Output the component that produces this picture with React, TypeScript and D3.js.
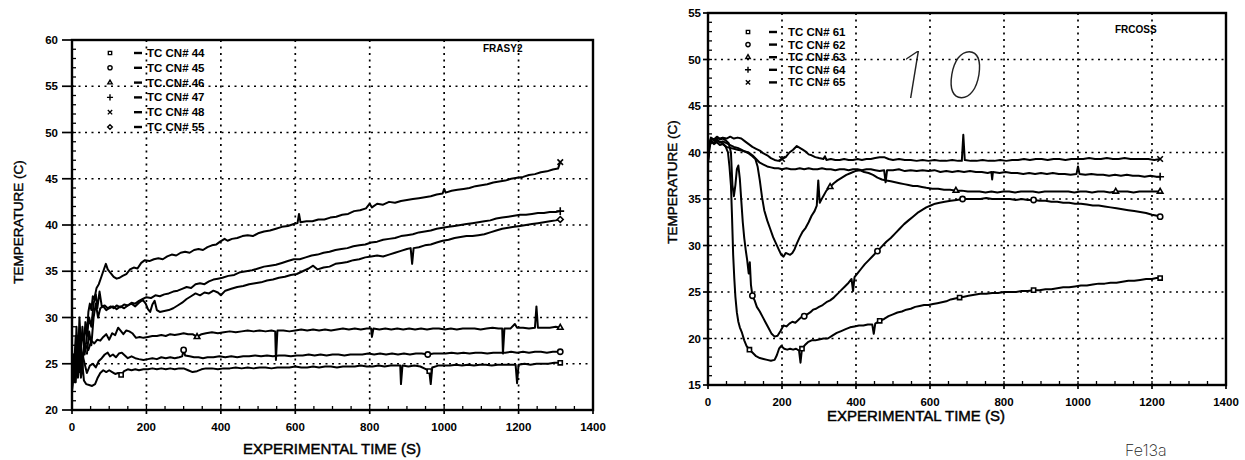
import * as d3 from "d3";

type Pt = [number, number];

// ---- left panel (FRASY2) ----
const leftLabels = ["TC CN# 44", "TC CN# 45", "TC CN# 46", "TC CN# 47", "TC CN# 48", "TC CN# 55"];
const leftYTicks = [20, 25, 30, 35, 40, 45, 50, 55, 60];
const xTicks = [0, 200, 400, 600, 800, 1000, 1200, 1400];

const l44: Pt[] = [[0,22.2],[4,25],[8,23],[12,27.5],[16,23.5],[20,26],[24,23.5],[28,25],[32,23.2],[38,22.8],[46,22.7],[54,22.6],[62,22.8],[68,23.4],[76,24],[84,24.3],[92,24.1],[100,24.3],[108,24.1],[116,23.9],[124,24],[132,23.8],[140,24.2],[150,24.4],[160,24.3],[170,24.4],[180,24.3],[192,24.4],[204,24.4],[216,24.5],[228,24.4],[240,24.5],[252,24.4],[264,24.5],[276,24.4],[288,24.5],[300,24.5],[312,24.3],[324,24.1],[336,24.2],[348,24.4],[360,24.5],[376,24.5],[392,24.4],[408,24.5],[424,24.5],[440,24.6],[456,24.5],[472,24.6],[488,24.5],[504,24.6],[520,24.6],[536,24.5],[552,24.6],[568,24.6],[584,24.6],[600,24.7],[616,24.6],[632,24.6],[648,24.7],[664,24.6],[680,24.7],[696,24.7],[712,24.6],[728,24.7],[744,24.7],[760,24.7],[776,24.8],[792,24.7],[808,24.7],[824,24.8],[840,24.7],[856,24.8],[872,24.8],[882,24.8],[884,22.8],[888,24.8],[904,24.7],[920,24.8],[936,24.7],[952,24.4],[960,24.2],[964,22.8],[968,24.6],[984,24.8],[1000,24.8],[1016,24.8],[1032,24.9],[1048,24.8],[1064,24.9],[1080,24.8],[1096,24.9],[1112,24.9],[1128,24.8],[1144,24.9],[1160,24.9],[1176,24.9],[1192,24.9],[1196,22.9],[1200,24.9],[1216,25],[1232,24.9],[1248,25],[1264,25],[1280,25],[1296,25.1],[1312,25.1]];

const l45: Pt[] = [[0,22],[6,26],[10,23],[16,28],[22,24.5],[28,26],[34,25],[40,24],[48,24.8],[56,25],[64,24.6],[72,25.3],[80,25.6],[88,26],[96,26.2],[102,25.8],[110,26],[118,25.7],[126,26.1],[134,26.2],[142,25.9],[150,25.6],[160,25.8],[170,25.6],[180,25.5],[192,25.4],[204,25.5],[216,25.6],[228,25.5],[240,25.7],[252,25.6],[264,25.7],[276,25.6],[288,25.7],[296,25.8],[300,26.5],[304,25.9],[316,25.8],[328,25.7],[340,25.7],[352,25.6],[364,25.7],[380,25.7],[396,25.8],[412,25.7],[428,25.8],[444,25.7],[460,25.8],[476,25.8],[492,25.9],[508,25.8],[524,25.9],[540,25.8],[556,25.9],[572,25.9],[588,25.8],[604,25.9],[620,25.9],[636,26],[652,25.9],[668,26],[684,25.9],[700,26],[716,26],[732,25.9],[748,26],[764,26],[780,26],[796,26.1],[812,26],[828,26.1],[844,26],[860,26.1],[876,26],[892,26.1],[908,26],[924,26.1],[940,26.1],[956,26],[972,26.1],[988,26.1],[1004,26.1],[1020,26.2],[1036,26.1],[1052,26.2],[1068,26.1],[1084,26.2],[1100,26.2],[1116,26.1],[1132,26.2],[1148,26.2],[1164,26.2],[1180,26.3],[1196,26.2],[1212,26.3],[1228,26.2],[1244,26.3],[1260,26.3],[1276,26.2],[1292,26.3],[1312,26.3]];

const l46: Pt[] = [[0,22.5],[6,25],[10,28],[14,24],[18,27.5],[24,25],[30,26],[36,27],[44,26.5],[52,27.5],[60,27.2],[68,27.6],[76,27.5],[84,27.9],[92,28.2],[100,27.6],[108,28.3],[116,28.1],[124,28.9],[130,28.6],[138,28.2],[146,28.6],[154,28.5],[162,28.3],[172,27.8],[182,27.9],[192,27.8],[204,27.9],[216,28],[228,28],[240,28.1],[252,28],[264,28.2],[276,28.1],[288,28.2],[300,28.3],[312,28.2],[324,28.2],[336,27.9],[348,28.2],[360,28.3],[376,28.4],[392,28.3],[408,28.4],[424,28.5],[440,28.4],[456,28.5],[472,28.6],[488,28.5],[504,28.6],[520,28.5],[536,28.6],[546,28.5],[548,25.4],[552,28.6],[568,28.6],[584,28.5],[600,28.6],[616,28.7],[632,28.6],[648,28.7],[664,28.6],[680,28.7],[696,28.6],[712,28.7],[728,28.8],[744,28.7],[760,28.8],[776,28.7],[792,28.8],[804,28.8],[806,27.9],[810,28.8],[826,28.7],[842,28.8],[858,28.7],[874,28.8],[890,28.7],[906,28.8],[922,28.7],[938,28.8],[954,28.7],[970,28.8],[986,28.8],[1002,28.7],[1018,28.8],[1034,28.7],[1050,28.8],[1066,28.8],[1082,28.8],[1098,28.7],[1114,28.8],[1130,28.9],[1146,28.8],[1156,28.8],[1158,26.1],[1162,28.8],[1178,28.8],[1190,29.3],[1196,28.9],[1212,28.9],[1228,28.8],[1244,28.9],[1248,31.2],[1252,28.9],[1268,28.9],[1284,28.9],[1300,29],[1312,28.9]];

const l47: Pt[] = [[20,24],[28,29],[34,26],[40,28],[46,30],[52,29],[58,31.5],[64,32.5],[68,31],[74,32.8],[80,31.2],[88,31.3],[96,31],[104,31.2],[112,31],[120,31.3],[130,31.1],[140,31.4],[150,31.3],[160,31.6],[170,31.5],[180,31.8],[190,32],[200,32.2],[212,32.1],[224,32.4],[236,32.3],[248,32.5],[260,32.6],[272,32.8],[284,32.9],[296,33.1],[308,33.3],[320,33.2],[332,33.6],[344,33.7],[356,33.6],[368,33.9],[380,34.1],[392,34.2],[404,34.3],[420,34.5],[436,34.6],[452,34.9],[468,35],[484,35.1],[500,35.3],[516,35.5],[532,35.6],[548,35.7],[564,35.9],[580,36.1],[596,36.3],[612,36.3],[628,36.5],[644,36.7],[660,36.8],[676,37],[692,37.1],[708,37.3],[724,37.4],[740,37.5],[756,37.7],[772,37.8],[788,37.9],[804,38.1],[820,38.2],[836,38.4],[852,38.5],[868,38.6],[884,38.8],[900,38.9],[916,39],[932,39.2],[948,39.3],[964,39.4],[980,39.6],[996,39.7],[1012,39.8],[1028,39.9],[1044,40],[1060,40.1],[1076,40.2],[1092,40.3],[1108,40.4],[1124,40.5],[1140,40.7],[1156,40.8],[1172,40.9],[1188,41],[1204,41.1],[1220,41.1],[1236,41.2],[1252,41.3],[1268,41.3],[1284,41.4],[1300,41.4],[1312,41.5]];

const l48: Pt[] = [[0,22],[4,26],[8,23],[12,29],[16,25],[20,30],[24,27],[28,24.5],[32,27],[36,29.5],[40,28],[44,30.6],[48,31.5],[52,30.8],[56,32.3],[60,32],[66,33.2],[72,33.6],[78,34.3],[84,35],[91,35.8],[96,35.2],[104,34.8],[112,34.4],[120,34.2],[128,34.3],[136,34.5],[146,34.7],[156,35.2],[166,35.4],[176,35.3],[186,35.9],[196,36.2],[208,36.1],[220,36.3],[232,36.4],[244,36.3],[256,36.6],[268,36.8],[280,36.7],[292,37],[304,37.1],[316,37],[328,37.3],[340,37.4],[352,37.3],[364,37.6],[376,37.8],[388,37.9],[398,38.2],[410,38.5],[418,38.3],[430,38.5],[444,38.6],[458,38.8],[472,38.9],[486,38.8],[500,39.1],[516,39.3],[532,39.4],[548,39.6],[564,39.8],[580,39.9],[596,40.1],[606,40.2],[610,41.2],[614,40.3],[630,40.4],[646,40.4],[662,40.6],[678,40.6],[694,40.8],[710,40.9],[726,41.1],[742,41.2],[758,41.5],[774,41.6],[790,41.8],[800,42.3],[806,41.9],[820,42.3],[836,42.2],[852,42.5],[868,42.4],[884,42.6],[900,42.7],[916,42.8],[932,42.9],[948,43],[964,43.1],[980,43.3],[996,43.4],[1000,43.9],[1004,43.5],[1020,43.7],[1036,43.8],[1052,43.9],[1068,44],[1084,44.2],[1100,44.3],[1116,44.4],[1132,44.6],[1148,44.7],[1164,44.8],[1180,45],[1196,45.1],[1212,45.2],[1228,45.4],[1244,45.5],[1260,45.7],[1276,45.8],[1292,46],[1306,46.1],[1312,46.8]];

const l55: Pt[] = [[40,26],[46,28.5],[52,27],[58,30],[64,31.5],[70,30],[76,31],[84,31.2],[92,30.8],[100,31],[110,31.2],[120,30.9],[130,31.2],[140,31],[150,31.3],[160,31.5],[170,31.2],[180,31.6],[190,31.9],[198,31.5],[204,30.9],[210,30.6],[216,31.4],[222,31.8],[228,30.8],[236,30.6],[248,30.7],[260,30.8],[272,31],[284,31.3],[296,31.6],[308,32],[320,32.3],[332,32.6],[344,32.4],[356,32.7],[368,32.6],[380,32.9],[392,32.7],[400,32.4],[412,32.9],[428,33.1],[444,33.3],[460,33.4],[476,33.6],[492,33.7],[508,33.8],[524,34],[540,34.1],[556,34.3],[572,34.4],[588,34.6],[604,34.7],[620,35],[636,35.3],[648,35.6],[660,35.2],[676,35.4],[692,35.5],[708,35.8],[724,35.9],[740,36],[756,36.2],[772,36.3],[788,36.5],[804,36.6],[820,36.7],[836,36.6],[852,36.8],[868,37],[884,37.2],[900,37.4],[910,37.5],[914,35.8],[918,37.5],[932,37.6],[948,37.8],[964,37.9],[980,38.1],[996,38.3],[1012,38.4],[1028,38.6],[1044,38.7],[1060,38.8],[1076,38.8],[1092,38.9],[1108,39],[1124,39.2],[1140,39.4],[1156,39.6],[1172,39.7],[1188,39.8],[1204,39.9],[1220,40],[1236,40.1],[1252,40.2],[1268,40.3],[1284,40.4],[1300,40.5],[1312,40.6]];

const leftSeries = [l44, l45, l46, l47, l48, l55];
const leftMarkTimes = [[132, 960, 1312], [300, 960, 1312], [336, 1312], [1312], [1312], [1312]];

// ---- right panel (FRCOSS) ----
const rightLabels = ["TC CN# 61", "TC CN# 62", "TC CN# 63", "TC CN# 64", "TC CN# 65"];
const rightYTicks = [15, 20, 25, 30, 35, 40, 45, 50, 55];

const r61: Pt[] = [[0,39],[4,40.5],[8,41.2],[16,41],[24,41.3],[32,41.1],[40,41],[48,40.6],[54,40],[58,38.5],[62,36.5],[65,33],[68,29],[71,26.5],[74,24.5],[78,22.8],[82,21.8],[86,21.2],[92,20.6],[98,19.8],[104,19.2],[112,18.8],[120,18.5],[130,18.1],[140,17.9],[150,17.8],[160,17.7],[170,17.6],[180,17.7],[186,18.2],[192,18.9],[198,19.2],[206,18.9],[214,18.8],[222,18.9],[230,18.8],[238,18.9],[246,18.7],[250,17.4],[254,18.9],[262,19.3],[270,19.6],[280,19.8],[290,19.8],[300,19.9],[312,20],[324,20],[336,20.3],[348,20.6],[360,20.8],[372,21],[384,21.2],[396,21.3],[408,21.4],[420,21.4],[432,21.5],[444,21.5],[448,20.5],[452,21.6],[464,21.9],[476,22.1],[488,22.4],[500,22.6],[512,22.8],[524,22.9],[536,23.1],[548,23.2],[560,23.4],[572,23.5],[584,23.6],[596,23.6],[608,23.7],[620,23.8],[632,23.9],[644,24],[656,24.2],[668,24.3],[680,24.4],[692,24.5],[704,24.6],[720,24.7],[736,24.8],[752,24.8],[768,24.9],[784,24.9],[800,25],[816,25],[832,25],[848,25.1],[864,25.1],[880,25.2],[896,25.2],[912,25.3],[928,25.3],[944,25.4],[960,25.5],[976,25.5],[992,25.6],[1008,25.7],[1024,25.7],[1040,25.8],[1056,25.9],[1072,25.9],[1088,26],[1104,26],[1120,26.1],[1136,26.2],[1152,26.2],[1168,26.3],[1184,26.4],[1200,26.4],[1212,26.5],[1222,26.5]];

const r62: Pt[] = [[0,39.5],[4,41],[8,41.5],[16,41.3],[24,41.6],[32,41.4],[40,41.5],[48,41.3],[56,41],[62,40],[66,36.5],[70,35.3],[74,36.5],[78,38.2],[82,38.6],[86,37.2],[90,34.8],[94,32.5],[98,30.8],[102,29.5],[106,28.4],[110,27],[113,28.2],[116,25.8],[120,24.6],[126,24.1],[132,23.4],[140,22.9],[148,22.3],[156,21.7],[164,21.1],[172,20.5],[180,20.2],[188,20.3],[196,20.8],[204,21.4],[212,21.3],[220,21.6],[228,21.8],[236,21.7],[244,22],[252,22.3],[260,22.4],[268,22.6],[276,22.8],[284,23.1],[292,23.2],[300,23.4],[310,23.6],[320,23.9],[330,24.1],[340,24.4],[350,24.8],[360,25.2],[370,25.6],[380,26],[388,26.4],[392,25.1],[396,26.6],[404,27],[414,27.5],[424,28],[434,28.4],[446,28.9],[458,29.4],[470,29.9],[482,30.4],[494,30.8],[506,31.3],[518,31.8],[530,32.3],[542,32.7],[554,33.1],[566,33.5],[578,33.8],[590,34.1],[602,34.3],[614,34.5],[626,34.6],[640,34.7],[656,34.8],[672,34.9],[688,35],[704,35],[720,35],[736,35],[752,35.1],[768,35],[784,35],[800,35],[816,35],[832,34.9],[848,35],[864,34.9],[880,34.9],[896,34.8],[912,34.8],[928,34.7],[944,34.7],[960,34.6],[976,34.6],[992,34.5],[1008,34.5],[1024,34.4],[1040,34.3],[1056,34.3],[1072,34.2],[1088,34.1],[1104,34],[1120,33.9],[1136,33.8],[1152,33.7],[1168,33.6],[1184,33.5],[1200,33.3],[1214,33.2],[1222,33.1]];

const r63: Pt[] = [[0,39],[4,40.8],[8,41.3],[16,41],[24,41.4],[32,41.1],[40,41.2],[50,41],[60,40.8],[70,40.6],[80,40.5],[90,40.3],[100,40.1],[110,39.9],[120,39.6],[128,39.3],[134,38.5],[140,37],[146,35.2],[152,33.8],[160,32.7],[168,31.8],[176,30.9],[184,30.2],[192,29.5],[198,29],[204,28.8],[210,29.2],[216,29.1],[222,29],[228,29.2],[234,29.6],[240,30.2],[248,30.9],[256,31.5],[264,31.9],[272,32.5],[280,33.2],[288,33.7],[294,34.3],[298,37],[302,34.6],[310,35.2],[320,35.9],[330,36.3],[340,36.7],[350,37],[362,37.3],[374,37.6],[386,37.8],[398,38],[410,38.1],[422,37.9],[434,37.8],[446,37.6],[458,37.3],[470,37.1],[482,37],[494,36.9],[506,36.8],[518,36.7],[530,36.6],[542,36.5],[554,36.4],[566,36.4],[578,36.3],[590,36.2],[606,36.1],[622,36.1],[638,36],[654,36],[670,35.9],[686,35.9],[702,35.8],[718,35.8],[734,35.8],[750,35.7],[766,35.8],[782,35.7],[798,35.8],[814,35.8],[830,35.7],[846,35.8],[862,35.8],[878,35.8],[894,35.7],[910,35.8],[926,35.8],[942,35.8],[958,35.8],[974,35.8],[990,35.7],[1006,35.8],[1022,35.8],[1038,35.7],[1054,35.8],[1070,35.8],[1086,35.7],[1102,35.8],[1118,35.8],[1134,35.8],[1150,35.7],[1166,35.8],[1182,35.8],[1198,35.8],[1222,35.8]];

const r64: Pt[] = [[0,39],[4,40.6],[8,41.2],[16,40.9],[24,41.1],[32,40.8],[40,40.9],[50,40.6],[60,40.5],[70,40.4],[80,40.3],[90,40.2],[100,40.1],[110,40],[120,39.7],[130,39.3],[140,38.9],[150,38.7],[160,38.5],[170,38.4],[180,38.3],[190,38.3],[200,38.2],[212,38.3],[224,38.2],[236,38.2],[248,38.3],[260,38.2],[272,38.3],[284,38.2],[296,38.2],[308,38.3],[320,38.2],[332,38.2],[344,38.1],[356,38.2],[368,38.2],[380,38.1],[392,38.2],[404,38.2],[416,38.1],[428,38.2],[440,38.2],[452,38.1],[464,38],[476,38.1],[480,36.8],[484,38.1],[500,38.1],[516,38.2],[532,38],[548,38.1],[564,38],[580,38.1],[596,38],[612,38.1],[628,37.9],[644,38],[660,37.9],[676,38],[692,37.9],[708,38],[724,37.9],[740,37.9],[756,37.8],[766,37.9],[768,37.1],[770,37.9],[788,37.8],[804,37.9],[820,37.8],[836,37.8],[852,37.7],[868,37.8],[884,37.7],[900,37.8],[916,37.7],[932,37.8],[948,37.7],[964,37.7],[980,37.6],[996,37.7],[1000,38.5],[1004,37.7],[1020,37.6],[1036,37.7],[1052,37.6],[1068,37.6],[1084,37.5],[1100,37.6],[1116,37.5],[1132,37.6],[1148,37.5],[1164,37.5],[1180,37.4],[1196,37.5],[1212,37.4],[1222,37.4]];

const r65: Pt[] = [[0,39.5],[4,41],[8,41.6],[16,41.4],[24,41.7],[32,41.5],[40,41.6],[50,41.5],[60,41.7],[70,41.5],[80,41.6],[90,41.5],[100,41.2],[110,40.9],[120,40.6],[130,40.4],[140,40.2],[150,39.9],[160,39.7],[170,39.4],[180,39.2],[190,39.1],[200,39.3],[210,39.5],[220,40],[230,40.3],[240,40.7],[248,40.5],[256,40.3],[264,40.1],[272,39.8],[280,39.7],[290,39.5],[300,39.4],[312,39.3],[316,39.6],[320,39.2],[332,39.3],[344,39.2],[356,39.2],[368,39.3],[380,39.2],[392,39.2],[404,39.3],[416,39.2],[428,39.3],[440,39.3],[452,39.4],[464,39.5],[476,39.5],[488,39.3],[500,39.2],[516,39.3],[532,39.2],[548,39.2],[564,39.1],[580,39.2],[596,39.1],[612,39.2],[628,39.1],[644,39.1],[660,39.2],[676,39.1],[686,39.1],[690,41.9],[694,39.2],[710,39.1],[726,39.1],[742,39.2],[758,39.1],[774,39.1],[790,39.2],[806,39.1],[822,39.2],[838,39.2],[854,39.3],[870,39.2],[886,39.3],[902,39.3],[918,39.2],[934,39.3],[950,39.3],[966,39.2],[982,39.3],[998,39.3],[1014,39.3],[1030,39.4],[1046,39.3],[1062,39.3],[1078,39.4],[1094,39.3],[1110,39.3],[1126,39.4],[1142,39.3],[1158,39.3],[1174,39.3],[1190,39.3],[1206,39.2],[1222,39.3]];

const rightSeries = [r61, r62, r63, r64, r65];
const rightMarkTimes = [[112, 252, 460, 680, 880, 1222], [120, 260, 460, 680, 880, 1222], [330, 670, 1100, 1222], [1222], [200, 1222]];

const leftSymbols = [d3.symbolSquare2, d3.symbolCircle, d3.symbolTriangle2, d3.symbolPlus, d3.symbolX, d3.symbolDiamond2];
const rightSymbols = [d3.symbolSquare2, d3.symbolCircle, d3.symbolTriangle2, d3.symbolPlus, d3.symbolX];

const FONT = "'Liberation Sans', Arial, sans-serif";

type PanelProps = {
  series: Pt[][];
  markTimes: number[][];
  symbols: d3.SymbolType[];
  labels: string[];
  yTicks: number[];
  box: { left: number; right: number; top: number; bottom: number };
  tickLen: number;
  labelGap: number;
  xLabelY: number;
  titleX: number;
  titleY: number;
  yTitleX: number;
  yTitleY: number;
  tag: string;
  tagX: number;
  tagY: number;
  legend: { symX: number; dashX: number; textX: number; y0: number; dy: number };
};

function Panel(p: PanelProps) {
  const { box } = p;
  const x = d3.scaleLinear().domain([0, 1400]).range([box.left, box.right]);
  const y = d3
    .scaleLinear()
    .domain([p.yTicks[0], p.yTicks[p.yTicks.length - 1]])
    .range([box.bottom, box.top]);
  const line = d3
    .line<Pt>()
    .x((d) => x(d[0]))
    .y((d) => y(d[1]));
  const bis = d3.bisector((d: Pt) => d[0]).center;
  const minorX = d3.range(0, 1401, 50);
  const minorY = d3.range(p.yTicks[0], p.yTicks[p.yTicks.length - 1] + 0.1, 1);
  const gridY = p.yTicks.slice(1, -1);
  const gridX = xTicks.slice(1, -1);

  return (
    <g>
      {/* grid */}
      {gridY.map((v) => (
        <line key={"gy" + v} x1={box.left} x2={box.right} y1={y(v)} y2={y(v)}
          stroke="#000" strokeWidth={1.7} strokeDasharray="2 4.5" />
      ))}
      {gridX.map((v) => (
        <line key={"gx" + v} x1={x(v)} x2={x(v)} y1={box.top} y2={box.bottom}
          stroke="#000" strokeWidth={1.7} strokeDasharray="2 4.5" />
      ))}
      {/* minor ticks */}
      {minorX.map((v) => (
        <line key={"mx" + v} x1={x(v)} x2={x(v)} y1={box.bottom} y2={box.bottom - 4} stroke="#000" strokeWidth={1.3} />
      ))}
      {minorY.map((v) => (
        <line key={"my" + v} x1={box.left} x2={box.left + 4} y1={y(v)} y2={y(v)} stroke="#000" strokeWidth={1.3} />
      ))}
      {/* series */}
      {p.series.map((s, i) => (
        <path key={"s" + i} d={line(s) ?? ""} fill="none" stroke="#000" strokeWidth={2} strokeLinejoin="round" />
      ))}
      {p.series.map((s, i) =>
        p.markTimes[i].map((t) => {
          const d = s[bis(s, t)];
          return (
            <path key={"m" + i + "-" + t} transform={`translate(${x(d[0])},${y(d[1])})`}
              d={d3.symbol(p.symbols[i], 22)() ?? ""} fill="#fff" stroke="#000" strokeWidth={1.6} />
          );
        })
      )}
      {/* frame */}
      <rect x={box.left} y={box.top} width={box.right - box.left} height={box.bottom - box.top}
        fill="none" stroke="#000" strokeWidth={2.4} />
      {/* y axis */}
      {p.yTicks.map((v) => (
        <g key={"yt" + v}>
          <line x1={box.left - p.tickLen} x2={box.left} y1={y(v)} y2={y(v)} stroke="#000" strokeWidth={1.7} />
          <text x={box.left - p.labelGap} y={y(v)} dy="0.35em" textAnchor="end" fontFamily={FONT}
            fontWeight="bold" fontSize={11.5} fill="#000">{v}</text>
        </g>
      ))}
      {/* x axis */}
      {xTicks.map((v) => (
        <g key={"xt" + v}>
          <line x1={x(v)} x2={x(v)} y1={box.bottom} y2={box.bottom + 4} stroke="#000" strokeWidth={1.7} />
          <text x={x(v)} y={p.xLabelY} textAnchor="middle" fontFamily={FONT} fontWeight="bold" fontSize={11.5}
            fill="#000">{v}</text>
        </g>
      ))}
      <text x={p.titleX} y={p.titleY} textAnchor="middle" fontFamily={FONT} fontSize={15} fill="#000"
        stroke="#000" strokeWidth={0.45}>EXPERIMENTAL TIME (S)</text>
      <text transform={`translate(${p.yTitleX},${p.yTitleY}) rotate(-90)`} textAnchor="middle" dy="0.35em"
        fontFamily={FONT} fontSize={13.5} fill="#000" stroke="#000" strokeWidth={0.4}>TEMPERATURE (C)</text>
      <text x={p.tagX} y={p.tagY} fontFamily={FONT} fontWeight="bold" fontSize={10} fill="#000">{p.tag}</text>
      {/* legend */}
      {p.labels.map((lab, i) => {
        const ly = p.legend.y0 + i * p.legend.dy;
        return (
          <g key={"lg" + i}>
            <path transform={`translate(${p.legend.symX},${ly})`} d={d3.symbol(p.symbols[i], 14)() ?? ""}
              fill="#fff" stroke="#000" strokeWidth={1.4} />
            <line x1={p.legend.dashX - 4} x2={p.legend.dashX + 4} y1={ly} y2={ly} stroke="#000" strokeWidth={2.4} />
            <text x={p.legend.textX} y={ly} dy="0.35em" fontFamily={FONT} fontWeight="bold" fontSize={11.5}
              fill="#000">{lab}</text>
          </g>
        );
      })}
    </g>
  );
}

export default function App() {
  return (
    <div style={{ position: "absolute", left: 0, top: 0 }}>
      <svg width={1245} height={460} style={{ display: "block", background: "#fff" }}>
        <Panel
          series={leftSeries}
          markTimes={leftMarkTimes}
          symbols={leftSymbols}
          labels={leftLabels}
          yTicks={leftYTicks}
          box={{ left: 72, right: 593, top: 40, bottom: 410 }}
          tickLen={10}
          labelGap={14}
          xLabelY={431}
          titleX={332}
          titleY={454}
          yTitleX={18}
          yTitleY={222}
          tag="FRASY2"
          tagX={483}
          tagY={52}
          legend={{ symX: 110, dashX: 138, textX: 147, y0: 53, dy: 14.8 }}
        />
        <Panel
          series={rightSeries}
          markTimes={rightMarkTimes}
          symbols={rightSymbols}
          labels={rightLabels}
          yTicks={rightYTicks}
          box={{ left: 708, right: 1226, top: 13, bottom: 385 }}
          tickLen={5}
          labelGap={7}
          xLabelY={406}
          titleX={916}
          titleY={421}
          yTitleX={672}
          yTitleY={182}
          tag="FRCOSS"
          tagX={1115}
          tagY={33}
          legend={{ symX: 748, dashX: 773, textX: 788, y0: 32, dy: 12.6 }}
        />
        <text x={898} y={98} fontFamily="Inter, sans-serif" fontWeight={100} fontStyle="italic" fontSize={64}
          letterSpacing={24} fill="#222">10</text>
        <text x={1125} y={456} fontFamily="Inter, sans-serif" fontWeight={200} fontSize={16} fill="#222">Fe13a</text>
      </svg>
    </div>
  );
}
